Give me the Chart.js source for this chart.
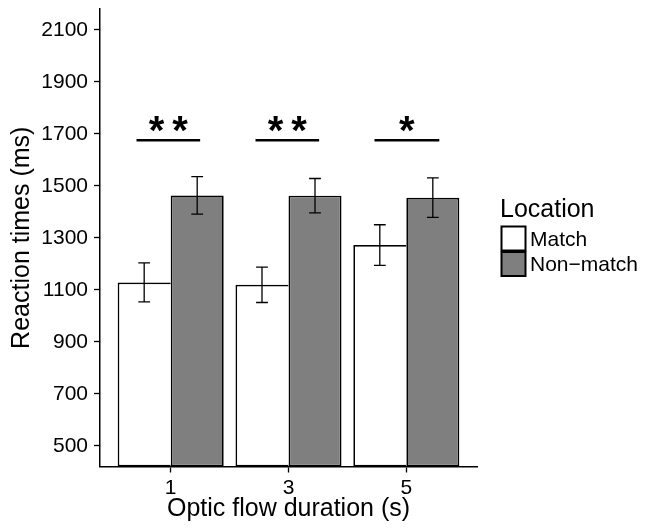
<!DOCTYPE html>
<html>
<head>
<meta charset="utf-8">
<script src="https://cdn.jsdelivr.net/npm/chart.js@4.4.1/dist/chart.umd.min.js"></script>
<style>
  html, body { margin: 0; padding: 0; background: #fff; }
  #wrap { width: 646px; height: 528px; }
</style>
</head>
<body>
<div id="wrap"><canvas id="rt"></canvas></div>
<script>
// optic flow duration groups (s)
const DURATIONS = ['1', '3', '5'];
const LOCATIONS = ['Match', 'Non\u2212match'];

// mean reaction times (ms) and error bar half-widths
const MATCH_RT = [1128, 1119, 1272];
const NONMATCH_RT = [1463, 1462, 1454];
const MATCH_ERR = [75, 68, 78];
const NONMATCH_ERR = [72, 66, 76];

// significance annotations per group
const SIG_LABELS = ['**', '**', '*'];
const SIG_FROM = [0.71, 1.72, 2.73];
const SIG_TO = [1.25, 2.26, 3.28];
const SIG_LEVEL = 1675;

const Y_TICKS = [500, 700, 900, 1100, 1300, 1500, 1700, 1900, 2100];
const Y_MIN = 420;
const Y_MAX = 2180;

const FONT = '"Liberation Sans", Arial, Helvetica, sans-serif';
Chart.defaults.font.family = FONT;
Chart.defaults.color = '#000';

const BAR_WIDTH = 0.45; // in x units, two bars per group
const CAP = 0.05;

const extras = {
  id: 'extras',
  afterDatasetsDraw(chart) {
    const { ctx, scales: { x, y } } = chart;
    ctx.save();
    ctx.strokeStyle = '#000';

    // error bars
    ctx.lineWidth = 1.3;
    const series = [[MATCH_RT, MATCH_ERR, -BAR_WIDTH / 2], [NONMATCH_RT, NONMATCH_ERR, BAR_WIDTH / 2]];
    series.forEach(([means, errs, shift]) => {
      means.forEach((m, i) => {
        const cx = i + 1 + shift;
        const top = y.getPixelForValue(m + errs[i]);
        const bot = y.getPixelForValue(m - errs[i]);
        const l = x.getPixelForValue(cx - CAP);
        const r = x.getPixelForValue(cx + CAP);
        const px = x.getPixelForValue(cx);
        ctx.beginPath();
        ctx.moveTo(px, top); ctx.lineTo(px, bot);
        ctx.moveTo(l, top); ctx.lineTo(r, top);
        ctx.moveTo(l, bot); ctx.lineTo(r, bot);
        ctx.stroke();
      });
    });

    // significance lines and stars
    const sy = y.getPixelForValue(SIG_LEVEL);
    ctx.lineWidth = 2.5;
    ctx.fillStyle = '#000';
    ctx.font = 'bold 40px ' + FONT;
    ctx.textAlign = 'center';
    ctx.textBaseline = 'alphabetic';
    SIG_LABELS.forEach((lab, i) => {
      const a = x.getPixelForValue(SIG_FROM[i]);
      const b = x.getPixelForValue(SIG_TO[i]);
      ctx.beginPath();
      ctx.moveTo(a, sy); ctx.lineTo(b, sy);
      ctx.stroke();
      ctx.fillText(lab.split('').join('\u2009'), (a + b) / 2, sy + 4);
    });

    // legend
    const lx = 501.5;
    ctx.textAlign = 'left';
    ctx.font = '25px ' + FONT;
    ctx.fillText('Location', 500, 216.5);
    ctx.font = '21px ' + FONT;
    ctx.textBaseline = 'middle';
    ctx.lineWidth = 2;
    chart.data.datasets.forEach((ds, i) => {
      const ky = 226.5 + i * 25.5;
      ctx.fillStyle = ds.backgroundColor;
      ctx.fillRect(lx, ky, 24, 24);
      ctx.strokeRect(lx, ky, 24, 24);
      ctx.fillStyle = '#000';
      ctx.fillText(ds.label, 530, ky + 13.5);
    });
    ctx.restore();
  }
};

const toPoints = vals => vals.map((v, i) => ({ x: i + 1, y: v }));

new Chart(document.getElementById('rt'), {
  type: 'bar',
  data: {
    datasets: [
      {
        label: LOCATIONS[0],
        data: toPoints(MATCH_RT),
        backgroundColor: '#ffffff',
        borderColor: '#000',
        borderWidth: 1.7,
        borderSkipped: 'right',
        base: Y_MIN,
      },
      {
        label: LOCATIONS[1],
        data: toPoints(NONMATCH_RT),
        backgroundColor: '#7f7f7f',
        borderColor: '#000',
        borderWidth: 1.7,
        borderSkipped: false,
        base: Y_MIN,
      },
    ],
  },
  options: {
    responsive: true,
    maintainAspectRatio: false,
    animation: false,
    layout: { padding: { top: 9, right: 169, left: 0, bottom: 0 } },
    plugins: { legend: { display: false }, tooltip: { enabled: false } },
    datasets: { bar: { categoryPercentage: 0.9, barPercentage: 1 } },
    scales: {
      x: {
        type: 'linear',
        min: 0.4,
        max: 3.6,
        offset: false,
        afterBuildTicks: s => { s.ticks = DURATIONS.map((d, i) => ({ value: i + 1 })); },
        afterFit: s => { s.height = 61.5; s.paddingLeft = 0; s.paddingRight = 0; },
        ticks: {
          font: { size: 21 },
          padding: 3,
          callback: v => DURATIONS[v - 1],
        },
        grid: { drawOnChartArea: false, offset: false, color: '#000', tickLength: 6, tickWidth: 1.3 },
        border: { display: true, color: '#000', width: 1.5 },
        title: {
          display: true,
          text: 'Optic flow duration (s)',
          font: { size: 25 },
          padding: { top: 0, bottom: 4 },
        },
      },
      y: {
        min: Y_MIN,
        max: Y_MAX,
        afterBuildTicks: s => { s.ticks = Y_TICKS.map(v => ({ value: v })); },
        afterFit: s => { s.width = 100; s.paddingTop = 0; s.paddingBottom = 0; },
        ticks: {
          font: { size: 21 },
          padding: 6,
          callback: v => String(v),
        },
        grid: { drawOnChartArea: false, color: '#000', tickLength: 6, tickWidth: 1.3 },
        border: { display: true, color: '#000', width: 1.5 },
        title: {
          display: true,
          text: 'Reaction times (ms)',
          font: { size: 25 },
          padding: { top: 7, bottom: 0 },
        },
      },
    },
  },
  plugins: [extras],
});
</script>
</body>
</html>
